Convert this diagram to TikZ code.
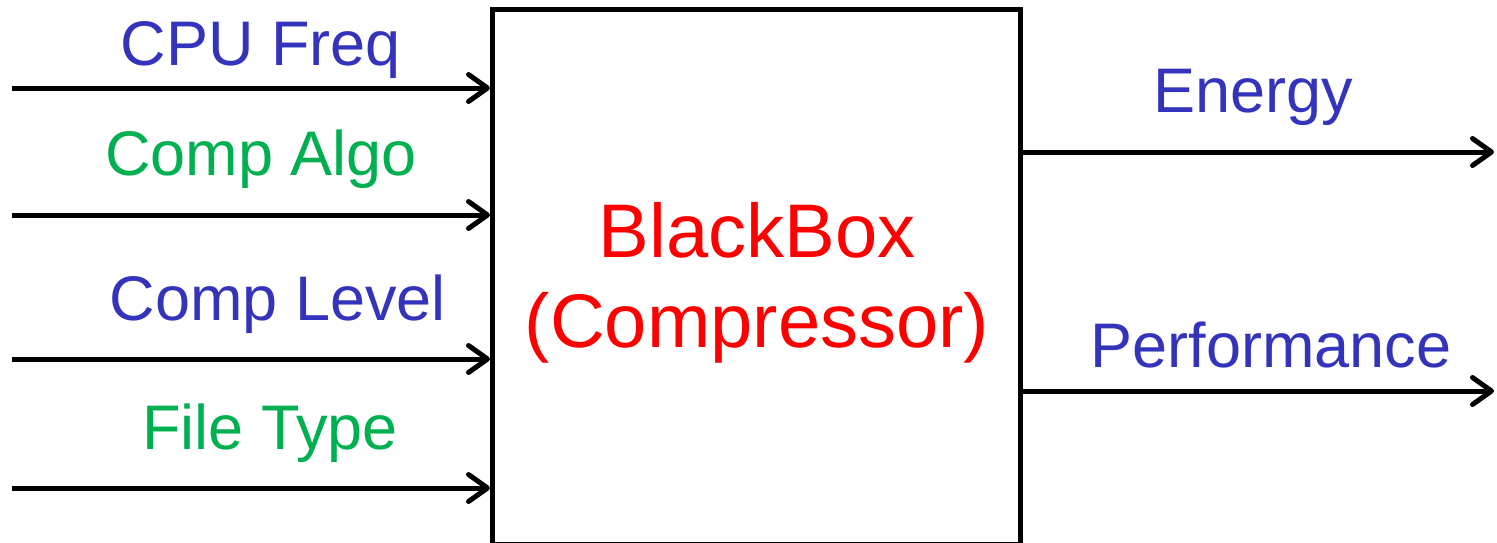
\documentclass[tikz,border=0pt]{standalone}
\usepackage{fontspec}
\setmainfont{Liberation Sans}
\usetikzlibrary{arrows.meta}
\definecolor{lblue}{RGB}{51,51,187}
\definecolor{lgreen}{RGB}{0,176,80}
\definecolor{lred}{RGB}{255,0,0}
\tikzset{
  wire/.style={line width=5pt, -{Straight Barb[length=19pt,width=27pt,line cap=round,line join=round]}},
  lbl/.style={anchor=base, inner sep=0pt, font=\fontsize{63}{70}\selectfont},
  big/.style={anchor=base, inner sep=0pt, font=\fontsize{76}{84}\selectfont},
}
\begin{document}
\begin{tikzpicture}[x=1pt,y=-1pt]
\useasboundingbox (0,0) rectangle (1497,542);
% box
\draw[line width=5pt] (492,9.5) rectangle (1020,544);
% input / output coordinates
\coordinate (i1s) at (12,88);  \coordinate (i1e) at (490,88);
\coordinate (i2s) at (12,215); \coordinate (i2e) at (490,215);
\coordinate (i3s) at (12,359); \coordinate (i3e) at (490,359);
\coordinate (i4s) at (12,488); \coordinate (i4e) at (490,488);
\coordinate (o1s) at (1020,152); \coordinate (o1e) at (1494,152);
\coordinate (o2s) at (1020,391); \coordinate (o2e) at (1494,391);
\draw[wire] (i1s) -- (i1e);
\draw[wire] (i2s) -- (i2e);
\draw[wire] (i3s) -- (i3e);
\draw[wire] (i4s) -- (i4e);
\draw[wire] (o1s) -- (o1e);
\draw[wire] (o2s) -- (o2e);
% labels
\node[lbl, text=lblue]  (cpu)  at (261,65)  {CPU Freq};
\node[lbl, text=lgreen] (algo) at (261,175) {Comp Algo};
\node[lbl, text=lblue]  (lev)  at (278,320) {Comp Level};
\node[lbl, text=lgreen] (ft)   at (270,449) {File Type};
\node[lbl, text=lblue]  (en)   at (1253,112) {Energy};
\node[lbl, text=lblue]  (perf) at (1271,367) {Performance};
% center text
\node[big, text=lred] (bb) at (757,257) {BlackBox};
\node[big, text=lred] (cp) at (757,347) {(Compressor)};
\end{tikzpicture}
\end{document}
